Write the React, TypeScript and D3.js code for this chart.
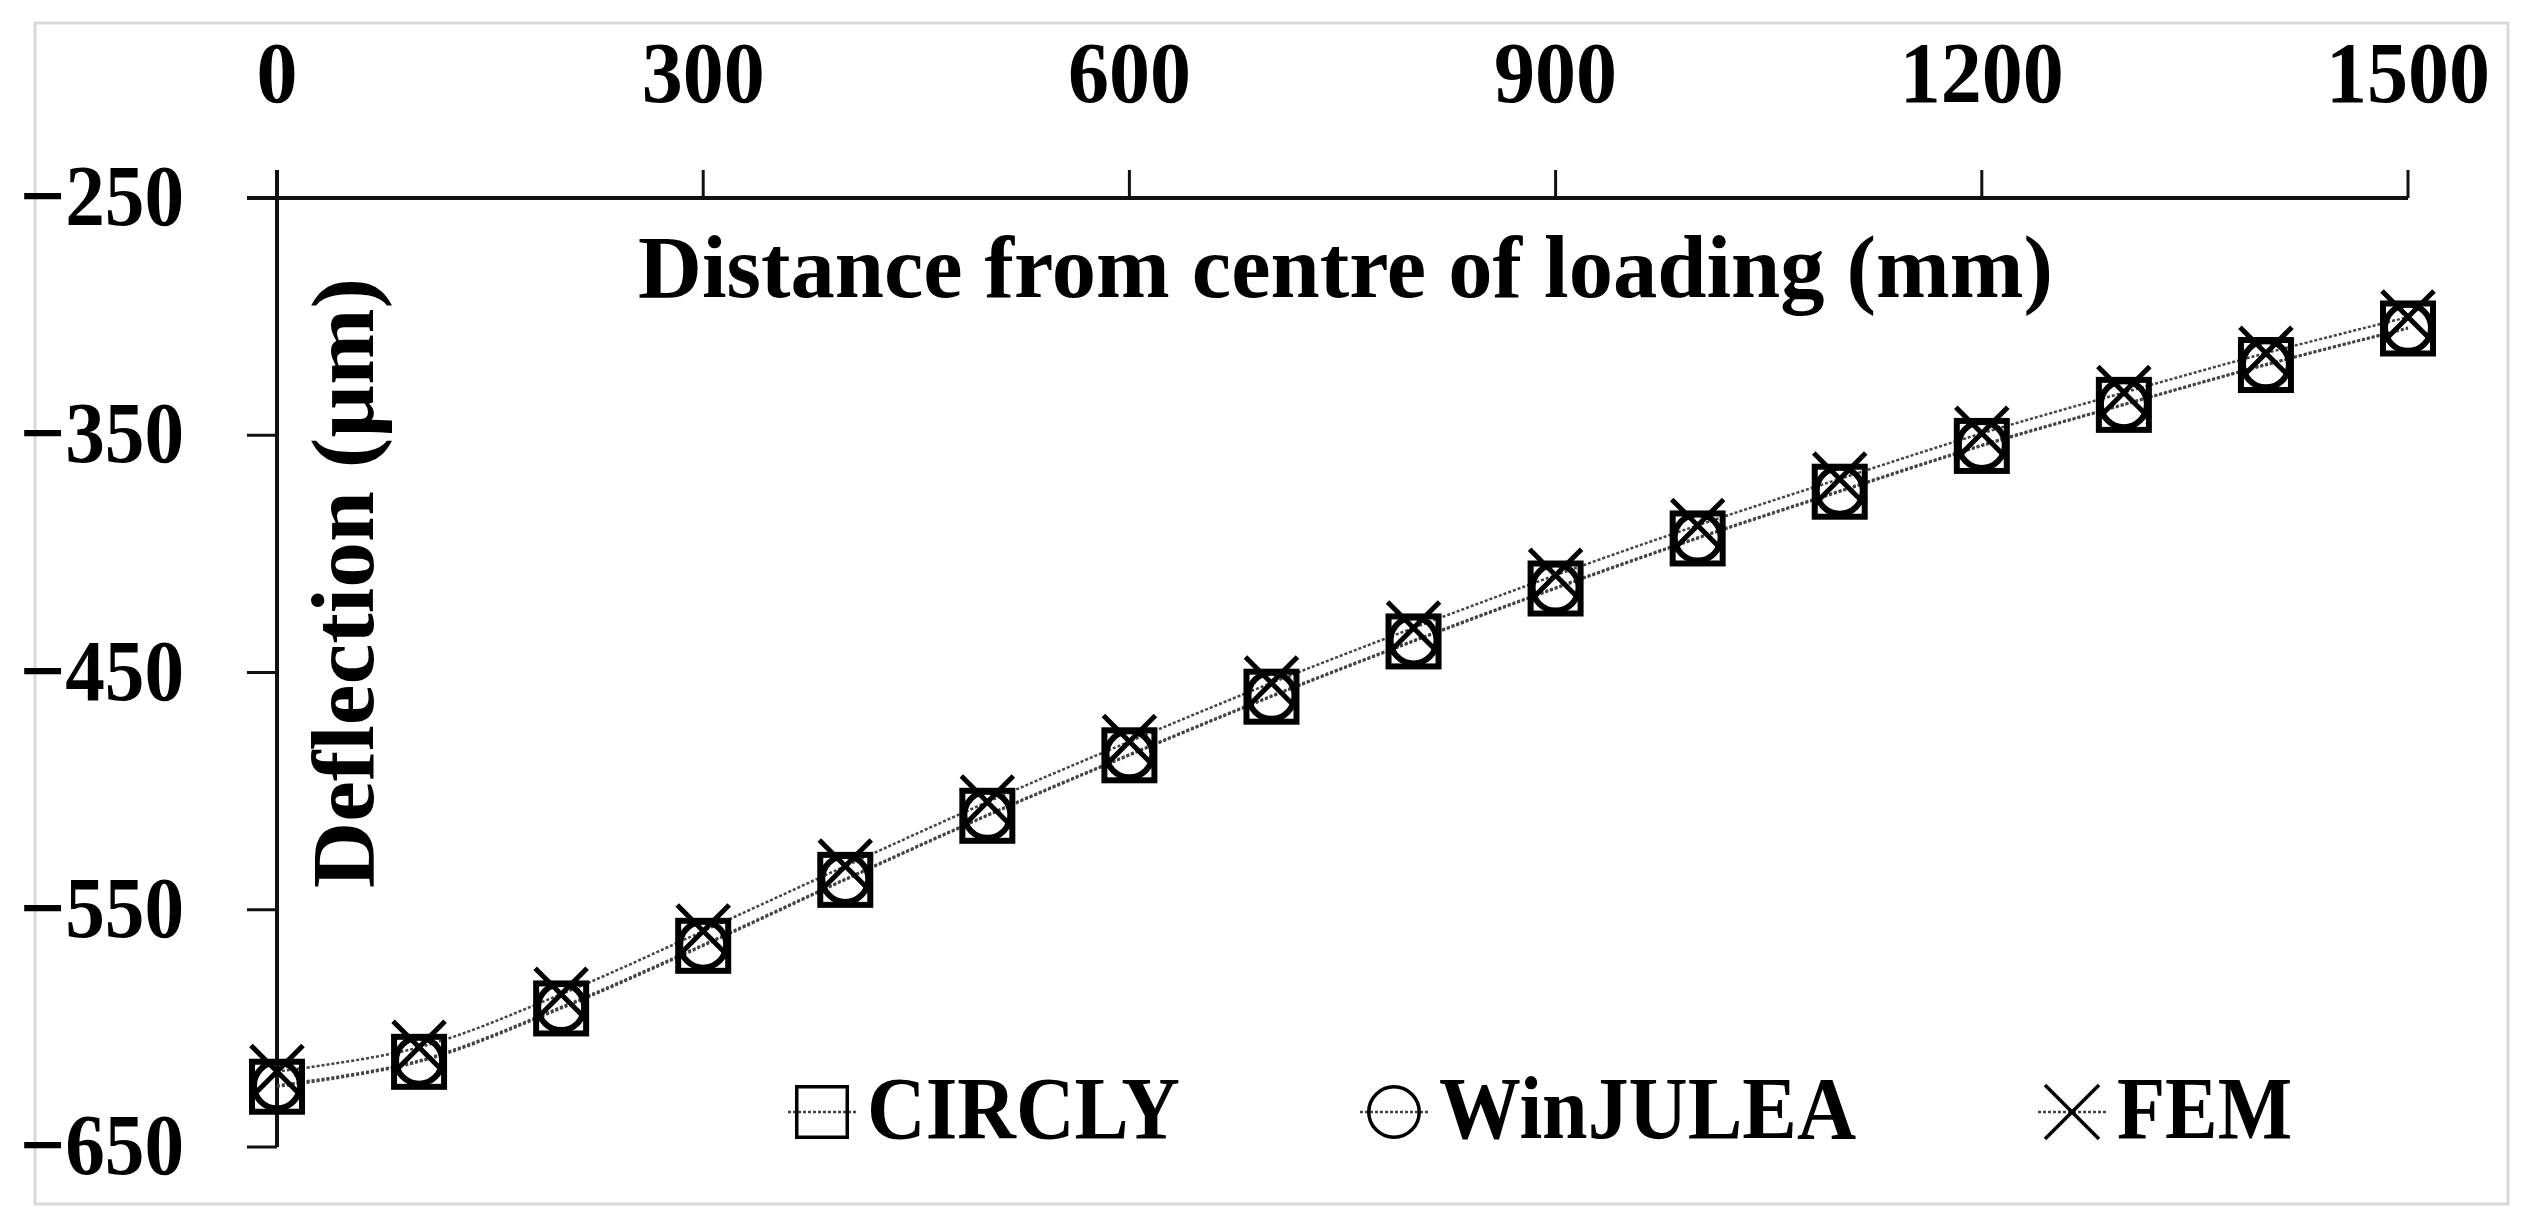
import React, { useEffect, useRef } from "react";
import * as d3 from "d3";

// distance from centre of loading (mm)
const distances = [0, 100, 200, 300, 400, 500, 600, 700, 800, 900, 1000, 1100, 1200, 1300, 1400, 1500];

// deflection (µm)
const circly = [-624.6, -614.1, -591.6, -565.2, -537.4, -510.4, -484.9, -460.2, -436.9, -414.6, -393.5, -373.8, -354.5, -337.2, -320.4, -305.0];
const winjulea = [-624.0, -613.6, -591.0, -564.7, -537.0, -510.0, -484.5, -459.8, -436.5, -414.2, -393.1, -373.4, -354.1, -336.9, -320.1, -304.7];
const fem = [-618.2, -608.0, -585.6, -559.0, -531.6, -504.6, -479.1, -454.4, -431.2, -409.0, -388.0, -368.4, -349.2, -332.0, -315.4, -300.2];

const xTicks = [0, 300, 600, 900, 1200, 1500];
const yTicks = [-250, -350, -450, -550, -650];
const seriesNames = ["CIRCLY", "WinJULEA", "FEM"];

const FONT = "'Liberation Serif', 'Times New Roman', serif";

export default function App() {
  const ref = useRef<SVGSVGElement>(null);

  useEffect(() => {
    const width = 2529;
    const height = 1228;
    const svg = d3.select(ref.current);
    svg.selectAll("*").remove();
    svg.attr("width", width).attr("height", height);

    // light frame round the figure
    svg.append("rect")
      .attr("x", 35).attr("y", 23)
      .attr("width", 2473).attr("height", 1181)
      .attr("fill", "white")
      .attr("stroke", "#d9d9d9")
      .attr("stroke-width", 3);

    const x = d3.scaleLinear().domain([0, 1500]).range([277, 2408]);
    const y = d3.scaleLinear().domain([-250, -650]).range([198, 1147]);

    const g = svg.append("g");

    // axes (x axis sits at the top, ticks point outward)
    g.append("line")
      .attr("x1", x(0) - 30).attr("x2", x(1500))
      .attr("y1", y(-250)).attr("y2", y(-250))
      .attr("stroke", "#111").attr("stroke-width", 4);
    g.append("line")
      .attr("x1", x(0)).attr("x2", x(0))
      .attr("y1", y(-250) - 28).attr("y2", y(-650))
      .attr("stroke", "#111").attr("stroke-width", 4);

    g.selectAll(".xtick").data(xTicks).enter().append("line")
      .attr("x1", d => x(d)).attr("x2", d => x(d))
      .attr("y1", y(-250) - 28).attr("y2", y(-250))
      .attr("stroke", "#111").attr("stroke-width", 3);
    g.selectAll(".ytick").data(yTicks).enter().append("line")
      .attr("x1", x(0) - 30).attr("x2", x(0))
      .attr("y1", d => y(d)).attr("y2", d => y(d))
      .attr("stroke", "#111").attr("stroke-width", 3);

    g.selectAll(".xlab").data(xTicks).enter().append("text")
      .attr("x", d => x(d)).attr("y", 102)
      .attr("text-anchor", "middle")
      .attr("textLength", d => String(d).length * 41)
      .attr("lengthAdjust", "spacingAndGlyphs")
      .style("font-family", FONT).style("font-weight", "bold").style("font-size", "87px")
      .text(d => String(d));
    g.selectAll(".ylab").data(yTicks).enter().append("text")
      .attr("x", 184).attr("y", d => y(d) + 27)
      .attr("text-anchor", "end")
      .attr("textLength", 164)
      .attr("lengthAdjust", "spacingAndGlyphs")
      .style("font-family", FONT).style("font-weight", "bold").style("font-size", "87px")
      .text(d => "\u2212" + Math.abs(d));

    // axis titles
    g.append("text")
      .attr("x", 638).attr("y", 297)
      .attr("textLength", 1415).attr("lengthAdjust", "spacingAndGlyphs")
      .style("font-family", FONT).style("font-weight", "bold").style("font-size", "88px")
      .text("Distance from centre of loading (mm)");
    g.append("text")
      .attr("transform", "translate(373,888) rotate(-90)")
      .attr("textLength", 610).attr("lengthAdjust", "spacingAndGlyphs")
      .style("font-family", FONT).style("font-weight", "bold").style("font-size", "88px")
      .text("Deflection (\u00b5m)");

    // smoothed dotted lines
    const allSeries = [circly, winjulea, fem];
    const line = d3.line<number>()
      .x((_, i) => x(distances[i]))
      .y(d => y(d))
      .curve(d3.curveCatmullRom.alpha(0.5));
    allSeries.forEach(s => {
      g.append("path")
        .attr("d", line(s))
        .attr("fill", "none")
        .attr("stroke", "#444")
        .attr("stroke-width", 2.5)
        .attr("stroke-dasharray", "3 2");
    });

    const drawMarker = (sel: any, kind: number, cx: number, cy: number, size: number, sw: number) => {
      const h = size / 2;
      if (kind === 0) {
        sel.append("rect")
          .attr("x", cx - h + sw / 2).attr("y", cy - h + sw / 2)
          .attr("width", size - sw).attr("height", size - sw)
          .attr("fill", "none").attr("stroke", "#000").attr("stroke-width", sw);
      } else if (kind === 1) {
        sel.append("circle")
          .attr("cx", cx).attr("cy", cy).attr("r", h - sw / 2)
          .attr("fill", "none").attr("stroke", "#000").attr("stroke-width", sw);
      } else {
        sel.append("path")
          .attr("d", `M${cx - h},${cy - h}L${cx + h},${cy + h}M${cx + h},${cy - h}L${cx - h},${cy + h}`)
          .attr("fill", "none").attr("stroke", "#000").attr("stroke-width", sw);
      }
    };

    allSeries.forEach((s, k) => {
      s.forEach((v, i) => {
        drawMarker(g, k, x(distances[i]), y(v), k === 0 ? 56 : 52, k === 2 ? 5 : 6);
      });
    });

    // legend
    const legendX = [822, 1394, 2072];
    const legendLen = [313, 417, 175];
    const legendY = 1112;
    seriesNames.forEach((name, k) => {
      const cx = legendX[k];
      g.append("line")
        .attr("x1", cx - 34).attr("x2", cx + 34)
        .attr("y1", legendY).attr("y2", legendY)
        .attr("stroke", "#444").attr("stroke-width", 2.5)
        .attr("stroke-dasharray", "3 2");
      drawMarker(g, k, cx, legendY, 54, 3.5);
      g.append("text")
        .attr("x", cx + 45).attr("y", 1138)
        .attr("textLength", legendLen[k]).attr("lengthAdjust", "spacingAndGlyphs")
        .style("font-family", FONT).style("font-weight", "bold").style("font-size", "88px")
        .text(name);
    });
  }, []);

  return (
    <svg ref={ref} style={{ position: "absolute", left: 0, top: 0, background: "white" }} />
  );
}
